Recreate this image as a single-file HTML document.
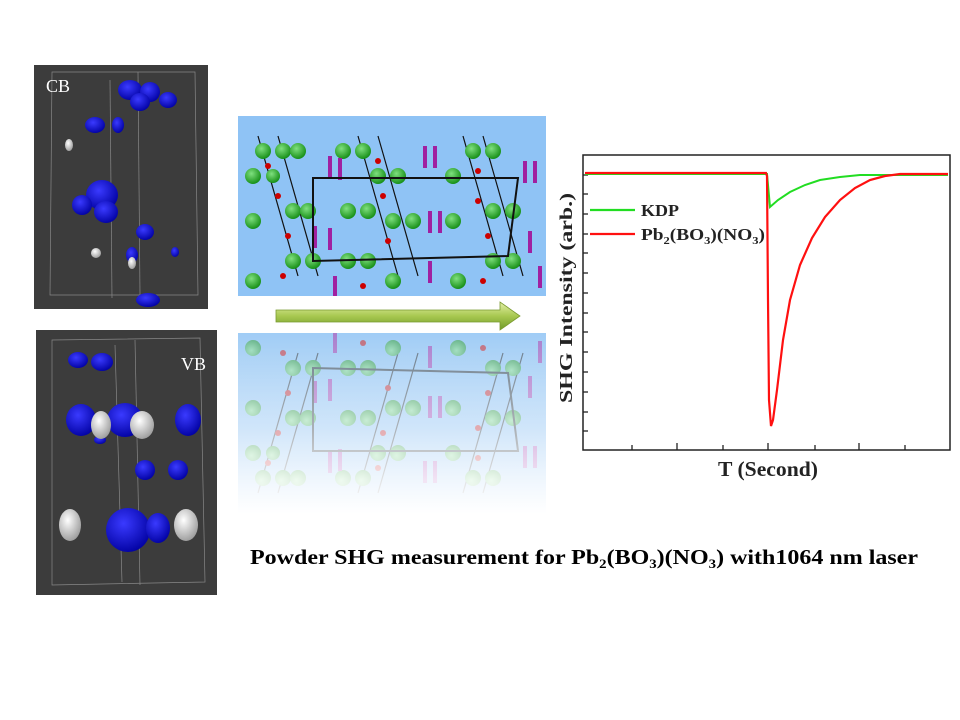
<!DOCTYPE html>
<html><head><meta charset="utf-8"><style>
html,body{margin:0;padding:0;background:#fff;width:960px;height:720px;overflow:hidden}
svg{display:block}
</style></head><body>
<svg width="960" height="720" viewBox="0 0 960 720" xmlns="http://www.w3.org/2000/svg" font-family="Liberation Serif, serif">
<defs>
<linearGradient id="arr" x1="0" y1="0" x2="0" y2="1"><stop offset="0" stop-color="#e4f0a8"/><stop offset="0.5" stop-color="#a8c850"/><stop offset="1" stop-color="#6f9a2a"/></linearGradient>
<linearGradient id="refl" x1="0" y1="0" x2="0" y2="1"><stop offset="0" stop-color="#a9d2f5"/><stop offset="0.6" stop-color="#dcecfb"/><stop offset="1" stop-color="#ffffff"/></linearGradient>
<linearGradient id="fade" x1="0" y1="0" x2="0" y2="1"><stop offset="0" stop-color="#fff" stop-opacity="0.05"/><stop offset="0.5" stop-color="#fff" stop-opacity="0.4"/><stop offset="0.95" stop-color="#fff" stop-opacity="1"/></linearGradient>
<radialGradient id="bl" cx="0.4" cy="0.35" r="0.7"><stop offset="0" stop-color="#3a3aff"/><stop offset="1" stop-color="#0000a0"/></radialGradient>
<radialGradient id="wh" cx="0.4" cy="0.35" r="0.7"><stop offset="0" stop-color="#fff"/><stop offset="1" stop-color="#999"/></radialGradient>
<radialGradient id="gr" cx="0.4" cy="0.35" r="0.7"><stop offset="0" stop-color="#7fe07f"/><stop offset="1" stop-color="#108a10"/></radialGradient>
<g id="crys">
<rect x="0" y="0" width="308" height="180" fill="#8fc3f5"/>
<g stroke="#111" stroke-width="1.2">
<line x1="20" y1="20" x2="60" y2="160"/><line x1="40" y1="20" x2="80" y2="160"/><line x1="120" y1="20" x2="160" y2="160"/><line x1="140" y1="20" x2="180" y2="160"/><line x1="225" y1="20" x2="265" y2="160"/><line x1="245" y1="20" x2="285" y2="160"/>
</g>
<g fill="url(#gr)">
<circle cx="25" cy="35" r="8"/><circle cx="45" cy="35" r="8"/><circle cx="60" cy="35" r="8"/><circle cx="15" cy="60" r="8"/><circle cx="35" cy="60" r="7"/><circle cx="55" cy="95" r="8"/><circle cx="70" cy="95" r="8"/><circle cx="15" cy="105" r="8"/><circle cx="55" cy="145" r="8"/><circle cx="75" cy="145" r="8"/><circle cx="15" cy="165" r="8"/>
<circle cx="105" cy="35" r="8"/><circle cx="125" cy="35" r="8"/><circle cx="140" cy="60" r="8"/><circle cx="160" cy="60" r="8"/><circle cx="110" cy="95" r="8"/><circle cx="130" cy="95" r="8"/><circle cx="155" cy="105" r="8"/><circle cx="175" cy="105" r="8"/><circle cx="110" cy="145" r="8"/><circle cx="130" cy="145" r="8"/><circle cx="155" cy="165" r="8"/>
<circle cx="235" cy="35" r="8"/><circle cx="255" cy="35" r="8"/><circle cx="215" cy="60" r="8"/><circle cx="255" cy="95" r="8"/><circle cx="275" cy="95" r="8"/><circle cx="215" cy="105" r="8"/><circle cx="255" cy="145" r="8"/><circle cx="275" cy="145" r="8"/><circle cx="220" cy="165" r="8"/>
</g>
<g fill="#c00">
<circle cx="30" cy="50" r="3"/><circle cx="40" cy="80" r="3"/><circle cx="50" cy="120" r="3"/><circle cx="45" cy="160" r="3"/><circle cx="140" cy="45" r="3"/><circle cx="145" cy="80" r="3"/><circle cx="150" cy="125" r="3"/><circle cx="125" cy="170" r="3"/><circle cx="240" cy="55" r="3"/><circle cx="240" cy="85" r="3"/><circle cx="250" cy="120" r="3"/><circle cx="245" cy="165" r="3"/>
</g>
<g fill="#a020a0"><rect x="90" y="40" width="4" height="22"/><rect x="100" y="42" width="4" height="22"/><rect x="185" y="30" width="4" height="22"/><rect x="195" y="30" width="4" height="22"/><rect x="285" y="45" width="4" height="22"/><rect x="295" y="45" width="4" height="22"/><rect x="75" y="110" width="4" height="22"/><rect x="90" y="112" width="4" height="22"/><rect x="190" y="95" width="4" height="22"/><rect x="200" y="95" width="4" height="22"/><rect x="190" y="145" width="4" height="22"/><rect x="290" y="115" width="4" height="22"/><rect x="300" y="150" width="4" height="22"/><rect x="95" y="160" width="4" height="20"/></g>
<polygon points="75,62 280,62 270,140 75,145" fill="none" stroke="#111" stroke-width="2"/>
</g>
</defs>

<rect x="34" y="65" width="174" height="244" fill="#3c3c3c"/>
<g stroke="#888" stroke-width="0.7" fill="none"><polygon points="52,72 195,72 198,295 50,295"/><line x1="110" y1="80" x2="112" y2="298"/><line x1="138" y1="72" x2="140" y2="295"/></g>
<g fill="url(#bl)"><ellipse cx="130" cy="90" rx="12" ry="10"/><ellipse cx="150" cy="92" rx="10" ry="10"/><ellipse cx="168" cy="100" rx="9" ry="8"/><ellipse cx="140" cy="102" rx="10" ry="9"/><ellipse cx="95" cy="125" rx="10" ry="8"/><ellipse cx="118" cy="125" rx="6" ry="8"/><ellipse cx="102" cy="195" rx="16" ry="15"/><ellipse cx="82" cy="205" rx="10" ry="10"/><ellipse cx="106" cy="212" rx="12" ry="11"/><ellipse cx="145" cy="232" rx="9" ry="8"/><ellipse cx="132" cy="255" rx="6" ry="8"/><ellipse cx="148" cy="300" rx="12" ry="7"/><ellipse cx="175" cy="252" rx="4" ry="5"/></g>
<g fill="url(#wh)"><ellipse cx="69" cy="145" rx="4" ry="6"/><ellipse cx="96" cy="253" rx="5" ry="5"/><ellipse cx="132" cy="263" rx="4" ry="6"/></g>
<text x="46" y="92" font-size="18" fill="#fff">CB</text>

<rect x="36" y="330" width="181" height="265" fill="#3c3c3c"/>
<g stroke="#888" stroke-width="0.7" fill="none"><polygon points="52,340 200,338 205,582 52,585"/><line x1="115" y1="345" x2="122" y2="582"/><line x1="135" y1="340" x2="140" y2="585"/></g>
<g fill="url(#bl)"><ellipse cx="78" cy="360" rx="10" ry="8"/><ellipse cx="102" cy="362" rx="11" ry="9"/><ellipse cx="81" cy="420" rx="15" ry="16"/><ellipse cx="125" cy="420" rx="18" ry="17"/><ellipse cx="188" cy="420" rx="13" ry="16"/><ellipse cx="145" cy="470" rx="10" ry="10"/><ellipse cx="178" cy="470" rx="10" ry="10"/><ellipse cx="128" cy="530" rx="22" ry="22"/><ellipse cx="158" cy="528" rx="12" ry="15"/><ellipse cx="100" cy="440" rx="6" ry="4"/></g>
<g fill="url(#wh)"><ellipse cx="101" cy="425" rx="10" ry="14"/><ellipse cx="142" cy="425" rx="12" ry="14"/><ellipse cx="70" cy="525" rx="11" ry="16"/><ellipse cx="186" cy="525" rx="12" ry="16"/></g>
<text x="181" y="370" font-size="18" fill="#fff">VB</text>

<use href="#crys" x="238" y="116"/>
<rect x="238" y="333" width="308" height="190" fill="url(#refl)"/>
<g opacity="0.5"><use href="#crys" transform="translate(238,513) scale(1,-1)"/></g>
<rect x="238" y="333" width="308" height="190" fill="url(#fade)"/>

<polygon points="276,310 500,310 500,302 520,316 500,330 500,322 276,322" fill="url(#arr)" stroke="#7a9a30" stroke-width="0.8"/>

<g stroke="#222" stroke-width="1.5" fill="none">
<rect x="583" y="155" width="367" height="295"/>
</g>
<g stroke="#222" stroke-width="1.3">
<line x1="583" y1="175" x2="588" y2="175"/><line x1="583" y1="194" x2="588" y2="194"/><line x1="583" y1="214" x2="588" y2="214"/><line x1="583" y1="234" x2="588" y2="234"/><line x1="583" y1="253" x2="588" y2="253"/><line x1="583" y1="273" x2="588" y2="273"/><line x1="583" y1="293" x2="588" y2="293"/><line x1="583" y1="313" x2="588" y2="313"/><line x1="583" y1="332" x2="588" y2="332"/><line x1="583" y1="352" x2="588" y2="352"/><line x1="583" y1="372" x2="588" y2="372"/><line x1="583" y1="392" x2="588" y2="392"/><line x1="583" y1="412" x2="588" y2="412"/><line x1="583" y1="431" x2="588" y2="431"/>
<line x1="632" y1="450" x2="632" y2="445"/><line x1="677" y1="450" x2="677" y2="443"/><line x1="723" y1="450" x2="723" y2="445"/><line x1="768" y1="450" x2="768" y2="443"/><line x1="815" y1="450" x2="815" y2="445"/><line x1="859" y1="450" x2="859" y2="443"/><line x1="905" y1="450" x2="905" y2="445"/>
</g>
<polyline fill="none" stroke="#22dd22" stroke-width="2" points="585,174 767,174 770,207 778,200 790,192 805,185 820,180 840,177 860,175 948,175"/>
<polyline fill="none" stroke="#ff1010" stroke-width="2.2" points="585,173 766,173 767,176 768,300 769,400 771,426 773,420 777,390 783,340 790,300 800,265 812,238 825,217 840,200 855,188 870,180 885,176 900,174 948,174"/>
<line x1="590" y1="210" x2="635" y2="210" stroke="#22dd22" stroke-width="2.2"/>
<line x1="590" y1="234" x2="635" y2="234" stroke="#ff1010" stroke-width="2.2"/>
<text x="641" y="216" font-size="17" font-weight="bold" fill="#222" textLength="38" lengthAdjust="spacingAndGlyphs">KDP</text>
<text x="641" y="240" font-size="17" font-weight="bold" fill="#222" textLength="124" lengthAdjust="spacingAndGlyphs">Pb<tspan font-size="11" dy="4">2</tspan><tspan dy="-4">(BO</tspan><tspan font-size="11" dy="4">3</tspan><tspan dy="-4">)(NO</tspan><tspan font-size="11" dy="4">3</tspan><tspan dy="-4">)</tspan></text>
<text transform="translate(572,298) rotate(-90)" text-anchor="middle" font-size="18" font-weight="bold" fill="#222" textLength="210" lengthAdjust="spacingAndGlyphs">SHG Intensity (arb.)</text>
<text x="768" y="476" text-anchor="middle" font-size="21" font-weight="bold" fill="#222" textLength="100" lengthAdjust="spacingAndGlyphs">T (Second)</text>

<text x="250" y="564" font-size="21" font-weight="bold" fill="#000" textLength="668" lengthAdjust="spacingAndGlyphs">Powder SHG measurement for Pb<tspan font-size="13" dy="4">2</tspan><tspan dy="-4">(BO</tspan><tspan font-size="13" dy="4">3</tspan><tspan dy="-4">)(NO</tspan><tspan font-size="13" dy="4">3</tspan><tspan dy="-4">) with1064 nm laser</tspan></text>
</svg>
</body></html>
